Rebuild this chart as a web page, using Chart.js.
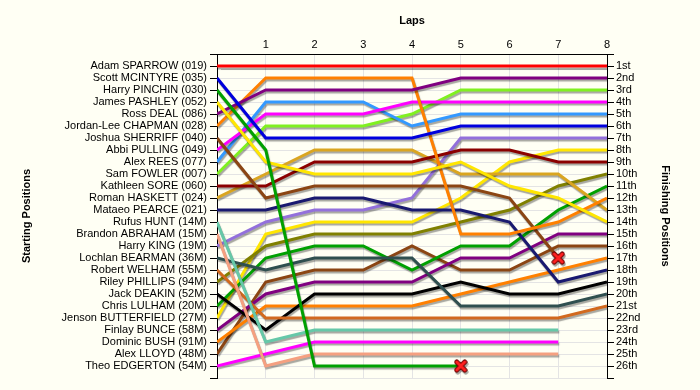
<!DOCTYPE html>
<html>
<head>
<meta charset="utf-8">
<script src="https://cdn.jsdelivr.net/npm/chart.js@4"></script>
<style>
  html, body { margin: 0; padding: 0; background: #fffff4; }
  #wrap { width: 700px; height: 390px; }
</style>
</head>
<body>
<div id="wrap"><canvas id="lapChart" width="700" height="390"></canvas></div>
<script>
// Laps (x axis)
var laps = [0, 1, 2, 3, 4, 5, 6, 7, 8];

// Drivers in starting order (left axis)
var drivers = [
  'Adam SPARROW (019)', 'Scott MCINTYRE (035)', 'Harry PINCHIN (030)', 'James PASHLEY (052)',
  'Ross DEAL (086)', 'Jordan-Lee CHAPMAN (028)', 'Joshua SHERRIFF (040)', 'Abbi PULLING (049)',
  'Alex REES (077)', 'Sam FOWLER (007)', 'Kathleen SORE (060)', 'Roman HASKETT (024)',
  'Mataeo PEARCE (021)', 'Rufus HUNT (14M)', 'Brandon ABRAHAM (15M)', 'Harry KING (19M)',
  'Lochlan BEARMAN (36M)', 'Robert WELHAM (55M)', 'Riley PHILLIPS (94M)', 'Jack DEAKIN (52M)',
  'Chris LULHAM (20M)', 'Jenson BUTTERFIELD (27M)', 'Finlay BUNCE (58M)', 'Dominic BUSH (91M)',
  'Alex LLOYD (48M)', 'Theo EDGERTON (54M)'
];

// Finishing positions (right axis)
var finishLabels = [
  '1st', '2nd', '3rd', '4th', '5th', '6th', '7th', '8th', '9th', '10th', '11th', '12th', '13th',
  '14th', '15th', '16th', '17th', '18th', '19th', '20th', '21st', '22nd', '23rd', '24th', '25th', '26th'
];

// Position of each driver at the end of each lap (lap 0 = grid)
var positions = [
  [1, 1, 1, 1, 1, 1, 1, 1, 1],
  [2, 7, 7, 7, 7, 6, 6, 6, 6],
  [3, 8, 26, 26, 26, 26, null, null, null],
  [4, 9, 10, 10, 10, 9, 11, 12, 14],
  [5, 3, 3, 3, 3, 2, 2, 2, 2],
  [6, 2, 2, 2, 2, 15, 15, 14, 12],
  [7, 12, 11, 11, 11, 11, 12, 17, null],
  [8, 5, 5, 5, 4, 4, 4, 4, 4],
  [9, 4, 4, 4, 6, 5, 5, 5, 5],
  [10, 6, 6, 6, 5, 3, 3, 3, 3],
  [11, 11, 9, 9, 9, 8, 8, 9, 9],
  [12, 10, 8, 8, 8, 10, 10, 10, 13],
  [13, 13, 12, 12, 13, 13, 14, 19, 18],
  [14, 24, 23, 23, 23, 23, 23, 23, null],
  [15, 26, 25, 25, 25, 25, 25, 25, null],
  [16, 14, 13, 13, 12, 7, 7, 7, 7],
  [17, 18, 17, 17, 17, 21, 21, 21, 20],
  [18, 22, 22, 22, 22, 22, 22, 22, 21],
  [19, 16, 15, 15, 15, 14, 13, 11, 10],
  [20, 23, 20, 20, 20, 19, 20, 20, 19],
  [21, 17, 16, 16, 18, 16, 16, 13, 11],
  [22, 15, 14, 14, 14, 12, 9, 8, 8],
  [23, 20, 19, 19, 19, 17, 17, 15, 15],
  [24, 21, 21, 21, 21, 20, 19, 18, 17],
  [25, 19, 18, 18, 16, 18, 18, 16, 16],
  [26, 25, 24, 24, 24, 24, 24, 24, null]
];

// Lap on which a driver retired (red cross), null = still running
var retiredLap = [null, null, 5, null, null, null, 7, null, null, null, null, null, null,
  null, null, null, null, null, null, null, null, null, null, null, null, null];

var colours = [
  '#ff0000', '#0000dd', '#00a000', '#ffe600', '#800080', '#ff8000', '#8b4513', '#ff00ff',
  '#3399ff', '#80f020', '#8b0000', '#daa520', '#191970', '#66c8a8', '#f5a080', '#9370db',
  '#2f4f4f', '#d2691e', '#808000', '#000000', '#00a000', '#ffe600', '#800080', '#ff8000',
  '#8b4513', '#ff00ff'
];

// Red cross used for retirements
var cross = document.createElement('canvas');
cross.width = 14; cross.height = 14;
(function () {
  var c = cross.getContext('2d');
  c.lineCap = 'round';
  c.strokeStyle = '#700000'; c.lineWidth = 5;
  c.beginPath(); c.moveTo(3, 3); c.lineTo(11, 11); c.moveTo(11, 3); c.lineTo(3, 11); c.stroke();
  c.strokeStyle = '#ff2020'; c.lineWidth = 3;
  c.beginPath(); c.moveTo(3, 3); c.lineTo(11, 11); c.moveTo(11, 3); c.lineTo(3, 11); c.stroke();
})();

var datasets = drivers.map(function (name, i) {
  return {
    label: name,
    data: laps.map(function (lap, j) { return { x: lap, y: positions[i][j] }; }),
    borderColor: colours[i],
    backgroundColor: colours[i],
    borderWidth: 3,
    tension: 0,
    fill: false,
    spanGaps: false,
    pointStyle: cross,
    pointRadius: function (ctx) { return ctx.dataIndex === retiredLap[i] ? 6 : 0; },
    pointHoverRadius: 0
  };
});

// Cream background for the whole canvas
var bgPlugin = {
  id: 'bg',
  beforeDraw: function (chart) {
    var c = chart.ctx;
    c.save();
    c.fillStyle = '#fffff4';
    c.fillRect(0, 0, chart.width, chart.height);
    c.restore();
  }
};

// Soft shadow under the lines
var shadowPlugin = {
  id: 'lineShadow',
  beforeDatasetsDraw: function (chart) {
    var ctx = chart.ctx;
    ctx.save();
    ctx.shadowColor = 'rgba(0,0,0,0.35)';
    ctx.shadowOffsetX = 1;
    ctx.shadowOffsetY = 2;
    ctx.shadowBlur = 1;
  },
  afterDatasetsDraw: function (chart) {
    chart.ctx.restore();
  }
};

var font = { family: 'Liberation Sans, Arial, sans-serif', size: 11 };
var boldFont = { family: 'Liberation Sans, Arial, sans-serif', size: 11, weight: 'bold' };

var ctx = document.getElementById('lapChart').getContext('2d');
var myChart = new Chart(ctx, {
  type: 'line',
  data: { datasets: datasets },
  plugins: [bgPlugin, shadowPlugin],
  options: {
    responsive: false,
    animation: false,
    events: [],
    layout: { padding: { bottom: 12 } },
    plugins: { legend: { display: false }, tooltip: { enabled: false } },
    scales: {
      x: {
        type: 'linear',
        position: 'top',
        min: 0,
        max: 8,
        afterFit: function (s) { s.height = 54; },
        ticks: {
          stepSize: 1, color: '#000', font: font, padding: 2,
          callback: function (v) { return v === 0 ? '' : v; }
        },
        grid: { color: '#e4e4e4', drawTicks: false },
        border: { color: '#000', width: 1 },
        title: { display: true, text: 'Laps', color: '#000', font: boldFont, padding: { top: 14 } }
      },
      y: {
        type: 'linear',
        position: 'left',
        reverse: true,
        min: 0,
        max: 27,
        afterFit: function (s) { s.width = 217; },
        ticks: {
          stepSize: 1, autoSkip: false, color: '#000', font: font, padding: 3,
          callback: function (v) { return drivers[v - 1] || ''; }
        },
        grid: { color: '#e4e4e4', tickColor: '#000', tickLength: 7 },
        border: { color: '#000', width: 1 },
        title: { display: true, text: 'Starting Positions', color: '#000', font: boldFont, padding: { top: 20 } }
      },
      y2: {
        type: 'linear',
        position: 'right',
        reverse: true,
        min: 0,
        max: 27,
        afterFit: function (s) { s.width = 93; },
        ticks: {
          stepSize: 1, autoSkip: false, color: '#000', font: font, padding: 2,
          callback: function (v) { return finishLabels[v - 1] || ''; }
        },
        grid: { drawOnChartArea: false, tickColor: '#000', tickLength: 7 },
        border: { color: '#000', width: 1 },
        title: { display: true, text: 'Finishing Positions', color: '#000', font: boldFont, padding: { top: 28 } }
      }
    }
  }
});
</script>
</body>
</html>
